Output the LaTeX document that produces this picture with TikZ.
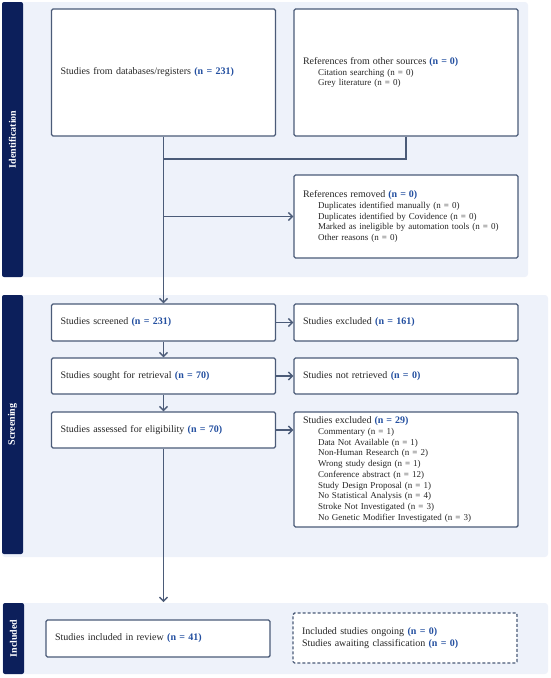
\documentclass[tikz,border=0pt]{standalone}
\usepackage{fontspec}
\setmainfont{Liberation Serif}
\usetikzlibrary{arrows.meta}
\tikzset{>={Straight Barb[length=4pt,width=8pt]}}
\definecolor{navy}{HTML}{0C1F5B}
\definecolor{band}{HTML}{EEF2FA}
\definecolor{bord}{HTML}{4B5B78}
\definecolor{numblue}{HTML}{234FA0}
\newcommand{\nn}[1]{\textcolor{numblue}{\textbf{(n = #1)}}}
\newcommand{\ind}{\hspace*{15pt}}
\newcommand{\ttl}[1]{{\fontsize{10}{11}\selectfont #1}}

\begin{document}
\begin{tikzpicture} [x=1pt,y=-1pt,font=\fontsize{10}{12}\selectfont]

\tikzstyle{bg}=[fill=band,rounded corners=3pt]
\tikzstyle{side}=[fill=navy,rounded corners=2pt,text=white,rotate=90,minimum height=21pt,inner sep=0pt,font=\fontsize{10}{12}\selectfont\bfseries]
\tikzstyle{box}=[draw=bord,line width=1.4pt,fill=white,rounded corners=1.5pt,align=left,text width=206pt,inner xsep=9pt,inner ysep=3pt,text=black!85]
\tikzstyle{sub}=[font=\fontsize{9}{10.7}\selectfont]
\tikzstyle{link}=[draw=bord,line width=1.3pt]

 \useasboundingbox (0,0) rectangle (550,678);

 \fill[bg] (2,2) rectangle (528,277);
 \fill[bg] (2,295) rectangle (548,557);
 \fill[bg] (2,603) rectangle (548,674);

 \node[side,minimum width=275pt] (ids) at (12.5,139.5) {Identification};
 \node[side,minimum width=259pt] (scs) at (12.5,424.5) {Screening};
 \node[side,minimum width=71pt] (ins) at (13.5,638.5) {Included};

 \node[box,minimum height=127pt] (db) at (163.5,72.5) {Studies from databases/registers \nn{231}};
 \node[box,sub,minimum height=127pt] (oth) at (406,72.5) {\ttl{References from other sources \nn{0}}\\
   \ind Citation searching (n = 0)\\
   \ind Grey literature (n = 0)};
 \node[box,sub,minimum height=83pt] (rem) at (406,216.5) {\ttl{References removed \nn{0}}\\
   \ind Duplicates identified manually (n = 0)\\
   \ind Duplicates identified by Covidence (n = 0)\\
   \ind Marked as ineligible by automation tools (n = 0)\\
   \ind Other reasons (n = 0)};

 \node[box,minimum height=37pt] (scr) at (163.5,322.5) {Studies screened \nn{231}};
 \node[box,minimum height=37pt] (exc) at (406,322.5) {Studies excluded \nn{161}};
 \node[box,minimum height=36pt] (sou) at (163.5,376) {Studies sought for retrieval \nn{70}};
 \node[box,minimum height=36pt] (ret) at (406,376) {Studies not retrieved \nn{0}};
 \node[box,minimum height=36pt] (ass) at (163.5,430) {Studies assessed for eligibility \nn{70}};
 \node[box,sub,minimum height=115pt] (why) at (406,469.5) {\ttl{Studies excluded \nn{29}}\\
   \ind Commentary (n = 1)\\
   \ind Data Not Available (n = 1)\\
   \ind Non-Human Research (n = 2)\\
   \ind Wrong study design (n = 1)\\
   \ind Conference abstract (n = 12)\\
   \ind Study Design Proposal (n = 1)\\
   \ind No Statistical Analysis (n = 4)\\
   \ind Stroke Not Investigated (n = 3)\\
   \ind No Genetic Modifier Investigated (n = 3)};

 \node[box,minimum height=37pt] (inc) at (158,638.5) {Studies included in review \nn{41}};
 \node[box,dash pattern=on 3pt off 2pt,minimum height=50pt] (ong) at (405,638) {Included studies ongoing \nn{0}\\
   Studies awaiting classification \nn{0}};

 \coordinate (join) at (163.5,159);
 \coordinate (incin) at (163.5,602);

 \draw[link,->] (db.south) -- (scr.north);
 \draw[link] (oth.south) |- (join);
 \draw[link,->] (db.south |- rem.west) -- (rem.west);
 \draw[link,->] (scr) -- (exc);
 \draw[link,->] (sou) -- (ret);
 \draw[link,->] (ass.east) -- (ass.east -| why.west);
 \draw[link,->] (scr) -- (sou);
 \draw[link,->] (sou) -- (ass);
 \draw[link,->] (ass.south) -- (incin);
\end{tikzpicture}
\end{document}
